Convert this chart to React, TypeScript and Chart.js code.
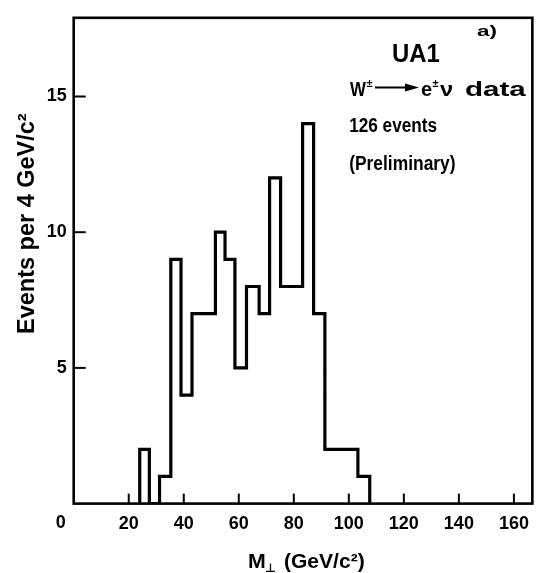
import React, { useEffect, useRef } from "react";
import { Chart, registerables } from "chart.js";

Chart.register(...registerables);

// Histogram bin edges (GeV/c^2) and counts per bin
const binEdges = [24, 27.5, 31.2, 35.3, 39, 43, 47.2, 51.5, 55, 58.6, 62.8, 67.4, 71.2, 75.2, 79.2, 83.2, 87.2, 91.3, 95.3, 99.3, 103.3, 107.6];
const binCounts = [2, 0, 1, 9, 4, 7, 7, 10, 9, 5, 8, 7, 12, 8, 8, 14, 7, 2, 2, 2, 1];

// Axes
const xTickValues = [20, 40, 60, 80, 100, 120, 140, 160];
const yTickValues = [5, 10, 15];
const originLabel = "0";
const xLimits = [0, 166.7];
const yLimits = [0, 17.9];

// Texts
const yTitle = "Events per 4 GeV/c\u00B2";
const xTitleMain = "M";
const xTitleSub = "\u22A5";
const xTitleUnit = "(GeV/c\u00B2)";
const panelLabel = "a)";
const experiment = "UA1";
const channelW = "W";
const channelE = "e";
const channelNu = "\u03BD";
const channelData = "data";
const pm = "\u00B1";
const eventsLabel = "126 events";
const prelimLabel = "(Preliminary)";

const FONT = '"Liberation Sans", "DejaVu Sans", sans-serif';

function drawInk(ctx: CanvasRenderingContext2D, text: string, left: number, baseline: number, size: number, targetW: number) {
  ctx.save();
  ctx.font = `bold ${size}px ${FONT}`;
  ctx.textAlign = "left";
  ctx.textBaseline = "alphabetic";
  const m = ctx.measureText(text);
  const inkW = m.actualBoundingBoxRight + m.actualBoundingBoxLeft;
  const sx = targetW / inkW;
  ctx.translate(left + m.actualBoundingBoxLeft * sx, baseline);
  ctx.scale(sx, 1);
  ctx.fillText(text, 0, 0);
  ctx.restore();
}

const framePlugin = {
  id: "frameAndText",
  afterDraw(chart: any) {
    const ctx: CanvasRenderingContext2D = chart.ctx;
    const ca = chart.chartArea;
    const xs = chart.scales.x;
    const ys = chart.scales.y;
    ctx.save();
    ctx.fillStyle = "#000";
    ctx.strokeStyle = "#000";
    // frame
    ctx.lineWidth = 2.6;
    ctx.strokeRect(ca.left, ca.top, ca.right - ca.left, ca.bottom - ca.top);
    // inward ticks
    ctx.lineWidth = 2;
    xTickValues.forEach((v) => {
      const px = xs.getPixelForValue(v);
      ctx.beginPath();
      ctx.moveTo(px, ca.bottom);
      ctx.lineTo(px, ca.bottom - 10);
      ctx.stroke();
    });
    yTickValues.forEach((v) => {
      const py = ys.getPixelForValue(v);
      ctx.beginPath();
      ctx.moveTo(ca.left, py);
      ctx.lineTo(ca.left + 12, py);
      ctx.stroke();
    });
    // origin label
    ctx.font = `bold 18px ${FONT}`;
    ctx.textAlign = "center";
    ctx.textBaseline = "top";
    ctx.fillText(originLabel, ca.left - 13, ca.bottom + 10);

    // y title (rotated)
    ctx.save();
    ctx.translate(34, 223);
    ctx.rotate(-Math.PI / 2);
    drawInk(ctx, yTitle, -110, 0, 23, 220);
    ctx.restore();

    // x title
    drawInk(ctx, xTitleMain, 249, 567.5, 20, 16);
    drawInk(ctx, xTitleSub, 266, 572, 12, 9);
    drawInk(ctx, xTitleUnit, 285, 567.5, 20, 79);

    // annotations
    drawInk(ctx, panelLabel, 477, 35.5, 15, 20);
    drawInk(ctx, experiment, 393, 61.7, 25, 47);
    drawInk(ctx, channelW, 350, 96, 20, 16);
    drawInk(ctx, pm, 366.5, 87, 11, 6);
    // arrow
    ctx.lineWidth = 2.2;
    ctx.beginPath();
    ctx.moveTo(375, 87.5);
    ctx.lineTo(410, 87.5);
    ctx.stroke();
    ctx.beginPath();
    ctx.moveTo(405, 83.5);
    ctx.lineTo(419, 87.5);
    ctx.lineTo(405, 91.5);
    ctx.closePath();
    ctx.fill();
    drawInk(ctx, channelE, 421, 96, 20, 11);
    drawInk(ctx, pm, 432.5, 87, 11, 6);
    drawInk(ctx, channelNu, 440, 96, 20, 13);
    drawInk(ctx, channelData, 465, 96, 20, 62);
    drawInk(ctx, eventsLabel, 350, 131.7, 20, 87);
    drawInk(ctx, prelimLabel, 350, 170, 20, 105);
    ctx.restore();
  },
};

export default function App() {
  const ref = useRef<HTMLCanvasElement | null>(null);
  useEffect(() => {
    if (!ref.current) return;
    const points: { x: number; y: number }[] = [{ x: binEdges[0], y: 0 }];
    binCounts.forEach((c, i) => points.push({ x: binEdges[i], y: c }));
    points.push({ x: binEdges[binEdges.length - 1], y: 0 });

    const chart = new Chart(ref.current, {
      type: "line",
      data: {
        datasets: [
          {
            data: points,
            stepped: "before",
            borderColor: "#000",
            borderWidth: 3.2,
            pointRadius: 0,
            fill: false,
            tension: 0,
          },
        ],
      },
      options: {
        animation: false,
        responsive: false,
        devicePixelRatio: 1,
        layout: { padding: { left: 0, top: 7.3, right: 2, bottom: 0 } },
        plugins: { legend: { display: false }, tooltip: { enabled: false } },
        scales: {
          x: {
            type: "linear",
            min: xLimits[0],
            max: xLimits[1],
            afterBuildTicks: (s: any) => {
              s.ticks = xTickValues.map((v) => ({ value: v }));
            },
            afterFit: (s: any) => {
              s.height = 573 - 503.6;
            },
            grid: { display: false, drawTicks: false },
            border: { display: false },
            ticks: {
              autoSkip: false,
              maxRotation: 0,
              padding: 10,
              color: "#000",
              font: { family: FONT, weight: "bold", size: 18 },
              callback: (v: any) => String(v),
            },
          },
          y: {
            type: "linear",
            min: yLimits[0],
            max: yLimits[1],
            afterBuildTicks: (s: any) => {
              s.ticks = yTickValues.map((v) => ({ value: v }));
            },
            afterFit: (s: any) => {
              s.width = 73.7;
            },
            grid: { display: false, drawTicks: false },
            border: { display: false },
            ticks: {
              autoSkip: false,
              padding: 7,
              color: "#000",
              font: { family: FONT, weight: "bold", size: 18 },
              callback: (v: any) => String(v),
            },
          },
        },
      },
      plugins: [framePlugin],
    });
    return () => chart.destroy();
  }, []);

  return (
    <div style={{ position: "absolute", left: 0, top: 0, width: 539, height: 573, background: "#fff" }}>
      <canvas ref={ref} width={539} height={573} />
    </div>
  );
}
